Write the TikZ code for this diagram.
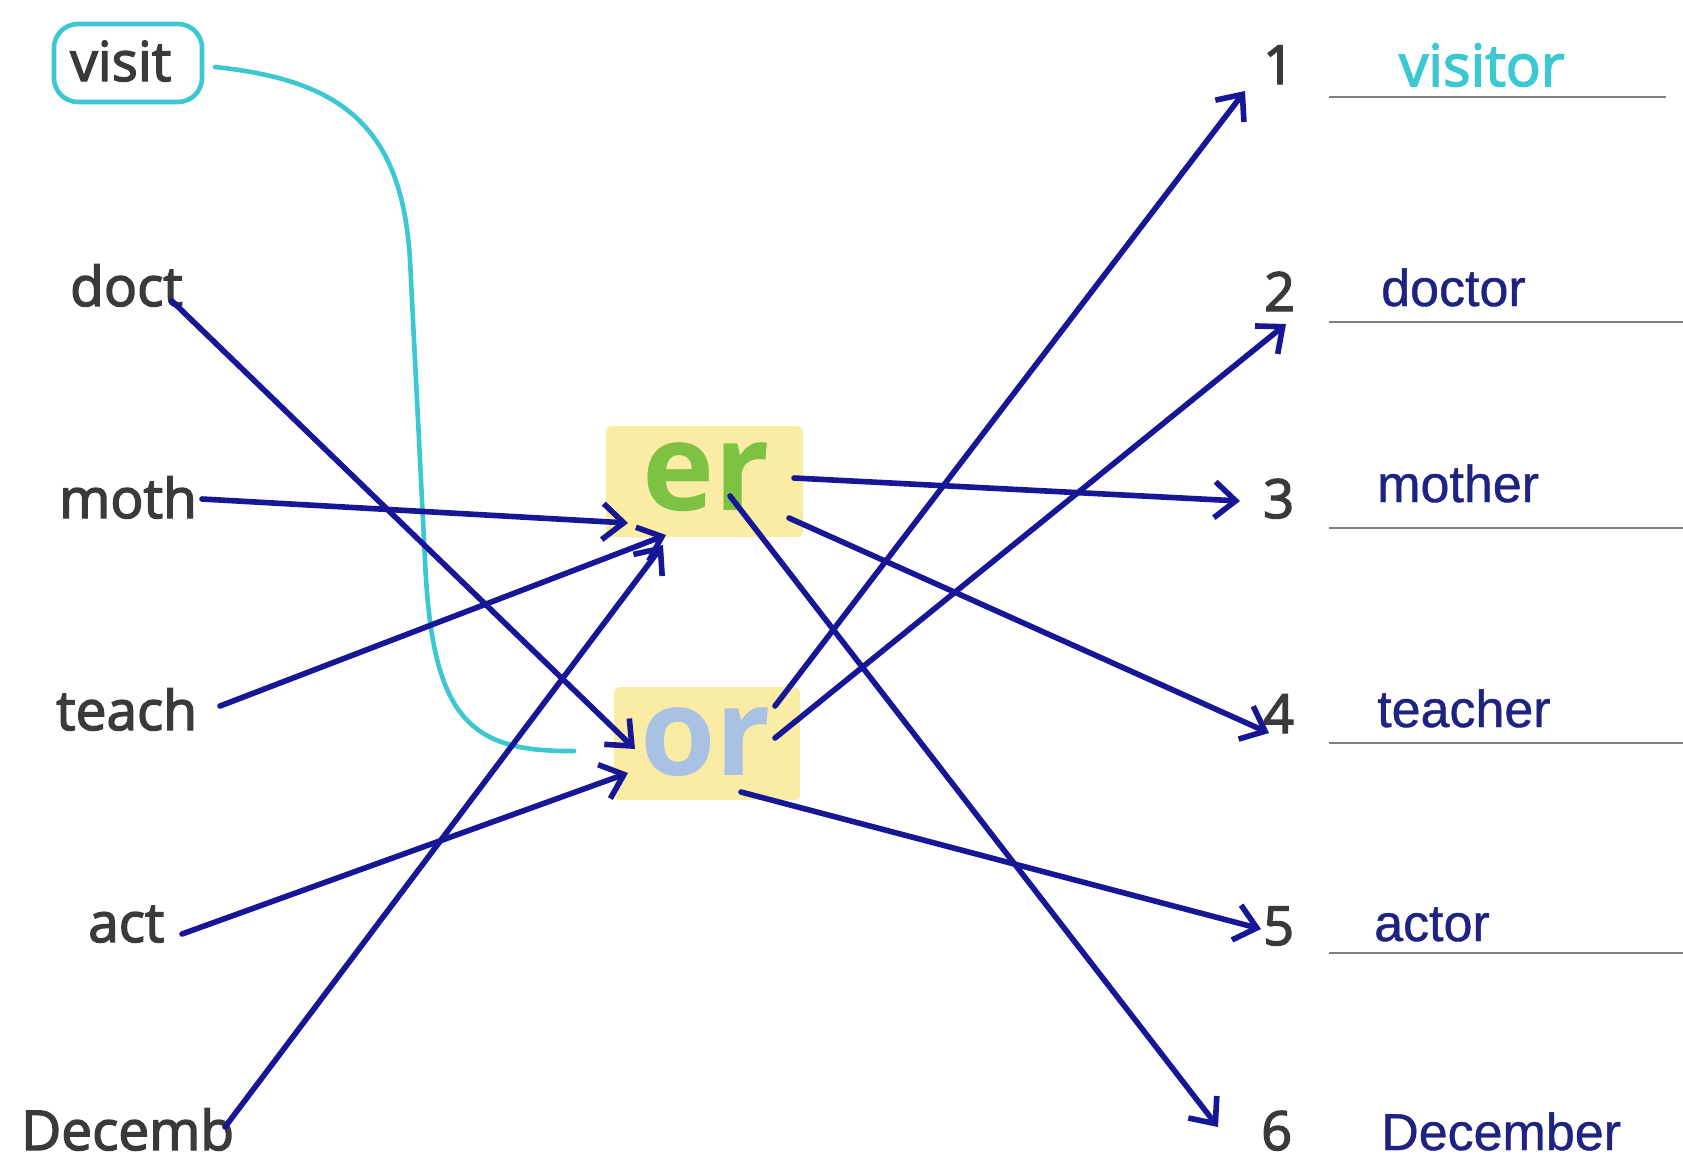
\documentclass[tikz,border=0pt]{standalone}
\usepackage{fontspec}
\setmainfont{Open Sans}
\newfontfamily\wordfont[FakeBold=2.6]{Open Sans}
\newfontfamily\ansfont[FakeBold=0.8]{Liberation Sans}
\usetikzlibrary{arrows.meta}
\definecolor{navy}{RGB}{22,22,150}
\definecolor{wordgray}{RGB}{58,58,58}
\definecolor{cyanline}{RGB}{60,200,210}
\definecolor{ansblue}{RGB}{30,35,130}
\definecolor{boxyellow}{RGB}{250,236,165}
\definecolor{ergreen}{RGB}{125,194,66}
\definecolor{orblue}{RGB}{169,193,227}
\tikzset{
  word/.style={anchor=base west, inner sep=0pt, text=wordgray, font=\wordfont\fontsize{55}{60}\selectfont},
  num/.style={anchor=base west, inner sep=0pt, text=wordgray, font=\wordfont\fontsize{54}{60}\selectfont},
  ans/.style={anchor=base west, inner sep=0pt, text=ansblue, font=\ansfont\fontsize{52}{60}\selectfont},
  suffix/.style={anchor=base west, inner sep=0pt, font=\bfseries\fontsize{122}{130}\selectfont},
  sufbox/.style={fill=boxyellow, draw=none, rounded corners=6pt},
  uline/.style={draw=gray, line width=2.4pt},
  arr/.style={draw=navy, line width=5.6pt, line cap=round, -{Straight Barb[length=21pt,width=36pt]}},
  cyanpath/.style={draw=cyanline, line width=4.6pt, line cap=round}
}
\begin{document}
\begin{tikzpicture}[x=1pt,y=-1pt]
\fill[white] (0,0) rectangle (1683,1163);
\useasboundingbox (0,0) rectangle (1683,1163);
% suffix boxes
\fill[sufbox] (606,426) rectangle (803,537);
\fill[sufbox] (614,687) rectangle (800,800);
\node[suffix, text=ergreen] (er) at (642,510) {er};
\node[suffix, text=orblue] (or) at (640,775) {or};
% left words
\node[word] (visit) at (70,81) {visit};
\draw[cyanpath, rounded corners=24pt] (54,24) rectangle (202,102);
\node[word] (doct) at (70,306) {doct};
\node[word] (moth) at (59,518) {moth};
\node[word] (teach) at (56,730) {teach};
\node[word] (act) at (88,942) {act};
\node[word] (decemb) at (21,1150) {Decemb};
% numbers
\node[num] (n1) at (1263,84) {1};
\node[num] (n2) at (1264,311) {2};
\node[num] (n3) at (1263,518) {3};
\node[num] (n4) at (1263,733) {4};
\node[num] (n5) at (1263,945) {5};
\node[num] (n6) at (1261,1150) {6};
% answer lines
\draw[uline] (1329,97) -- (1666,97);
\draw[uline] (1329,322) -- (1683,322);
\draw[uline] (1329,528) -- (1683,528);
\draw[uline] (1329,743) -- (1683,743);
\draw[uline] (1329,953) -- (1683,953);
% answers
\node[anchor=base west, inner sep=0pt, text=cyanline, font=\wordfont\fontsize{58}{60}\selectfont] (a1) at (1399,86) {visitor};
\node[ans] (a2) at (1381,306) {doctor};
\node[ans] (a3) at (1377,502) {mother};
\node[ans] (a4) at (1377,727) {teacher};
\node[ans] (a5) at (1374,941) {actor};
\node[ans] (a6) at (1381,1150) {December};
% connector end points
\coordinate (visitR) at (215,67);
\coordinate (orL) at (574,751);
\coordinate (doctE) at (172,301);
\coordinate (mothE) at (202,499);
\coordinate (teachE) at (220,706);
\coordinate (actE) at (182,934);
\coordinate (decembE) at (225,1127);
\coordinate (erIn1) at (628,523);
\coordinate (erIn2) at (666,535);
\coordinate (erIn3) at (663,545);
\coordinate (orIn1) at (635,749);
\coordinate (orIn2) at (628,773);
\coordinate (erOut3) at (794,478);
\coordinate (erOut6) at (730,496);
\coordinate (erOut4) at (789,518);
\coordinate (orOut1) at (775,706);
\coordinate (orOut2) at (775,738);
\coordinate (orOut5) at (741,792);
\coordinate (n1T) at (1245,91);
\coordinate (n2T) at (1286,324);
\coordinate (n3T) at (1240,501);
\coordinate (n4T) at (1269,733);
\coordinate (n5T) at (1261,929);
\coordinate (n6T) at (1218,1127);
% cyan curve
\draw[cyanpath] (visitR) .. controls (340,80) and (402,125) .. (410,260)
  -- (425,560) .. controls (432,720) and (470,752) .. (orL);
% arrows
\draw[arr] (doctE) -- (orIn1);
\draw[arr] (mothE) -- (erIn1);
\draw[arr] (teachE) -- (erIn2);
\draw[arr] (actE) -- (orIn2);
\draw[arr] (decembE) -- (erIn3);
\draw[arr] (erOut3) -- (n3T);
\draw[arr] (erOut6) -- (n6T);
\draw[arr] (erOut4) -- (n4T);
\draw[arr] (orOut1) -- (n1T);
\draw[arr] (orOut2) -- (n2T);
\draw[arr] (orOut5) -- (n5T);
\end{tikzpicture}
\end{document}
